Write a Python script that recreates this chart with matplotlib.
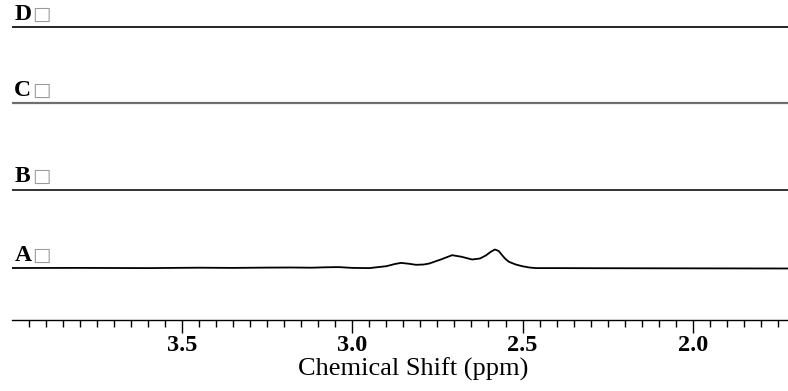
import numpy as np
import matplotlib.pyplot as plt

# trace labels and baselines (vertical offsets, arbitrary units)
labels = ['A', 'B', 'C', 'D']
offsets = [51.5, 130.5, 217, 293]
colors = ['black', '#222222', '#6e6e6e', 'black']
widths = [1.3, 1.3, 1.6, 1.2]

# spectrum A (ppm, height above baseline)
ppm_a = [4.00, 3.80, 3.60, 3.45, 3.35, 3.25, 3.18, 3.12, 3.08, 3.04, 3.00, 2.95,
         2.90, 2.875, 2.857, 2.835, 2.813, 2.79, 2.774, 2.74, 2.707, 2.68, 2.648,
         2.625, 2.608, 2.592, 2.581, 2.570, 2.560, 2.550, 2.540, 2.52, 2.501,
         2.48, 2.461, 2.40, 2.30, 2.10, 1.90, 1.72]
int_a = [0.5, 0.6, 0.4, 0.8, 0.6, 0.9, 1.0, 0.8, 1.2, 1.4, 0.6, 0.4,
         2.3, 4.5, 5.6, 4.8, 3.7, 4.0, 5.0, 9.0, 13.3, 11.8, 9.0,
         10.0, 13.0, 17.0, 19.0, 17.5, 13.3, 9.5, 6.7, 4.0, 2.3,
         1.0, 0.4, 0.4, 0.3, 0.2, 0.1, 0.0]

# flat traces B, C, D
ppm_flat = [4.00, 1.72]
int_flat = [0.0, 0.0]

xticks_major = [3.5, 3.0, 2.5, 2.0]

fig = plt.figure(figsize=(7.88, 3.91), dpi=100)
ax = fig.add_axes([12 / 788, 1 - 320 / 391, 776 / 788, 320 / 391])

for i, lab in enumerate(labels):
    if lab == 'A':
        x, y = ppm_a, int_a
    else:
        x, y = ppm_flat, int_flat
    ax.plot(x, np.array(y) + offsets[i], color=colors[i], lw=widths[i],
            solid_capstyle='butt')
    ax.text(0.003, offsets[i] + 7.5, lab, transform=ax.get_yaxis_transform(),
            fontfamily='Liberation Serif', fontweight='bold', fontsize=17,
            va='baseline', ha='left')
    ax.text(0.026, offsets[i] + 7.5, '\u25a1', transform=ax.get_yaxis_transform(),
            fontfamily='DejaVu Sans', fontsize=14, color='#999999',
            va='baseline', ha='left')

ax.set_xlim(4.0, 1.72)
ax.set_ylim(0, 320)

for s in ['top', 'left', 'right']:
    ax.spines[s].set_visible(False)
ax.spines['bottom'].set_linewidth(1.0)
ax.set_yticks([])

ax.set_xticks(xticks_major)
ax.set_xticklabels([f'{v:.1f}' for v in xticks_major],
                   fontfamily='Liberation Serif', fontweight='bold', fontsize=17.5)
ax.set_xticks(np.arange(1.75, 4.0, 0.05), minor=True)
ax.tick_params(axis='x', which='major', length=9, width=1.0, pad=2)
ax.tick_params(axis='x', which='minor', length=5, width=1.0)

ax.set_xlabel('Chemical Shift (ppm)', fontfamily='Liberation Serif',
              fontsize=19, labelpad=1)
ax.xaxis.set_label_coords(0.517, -0.118, transform=ax.transAxes)
ax.xaxis.label.set_va('top')

fig.savefig('out.png', dpi=100)
